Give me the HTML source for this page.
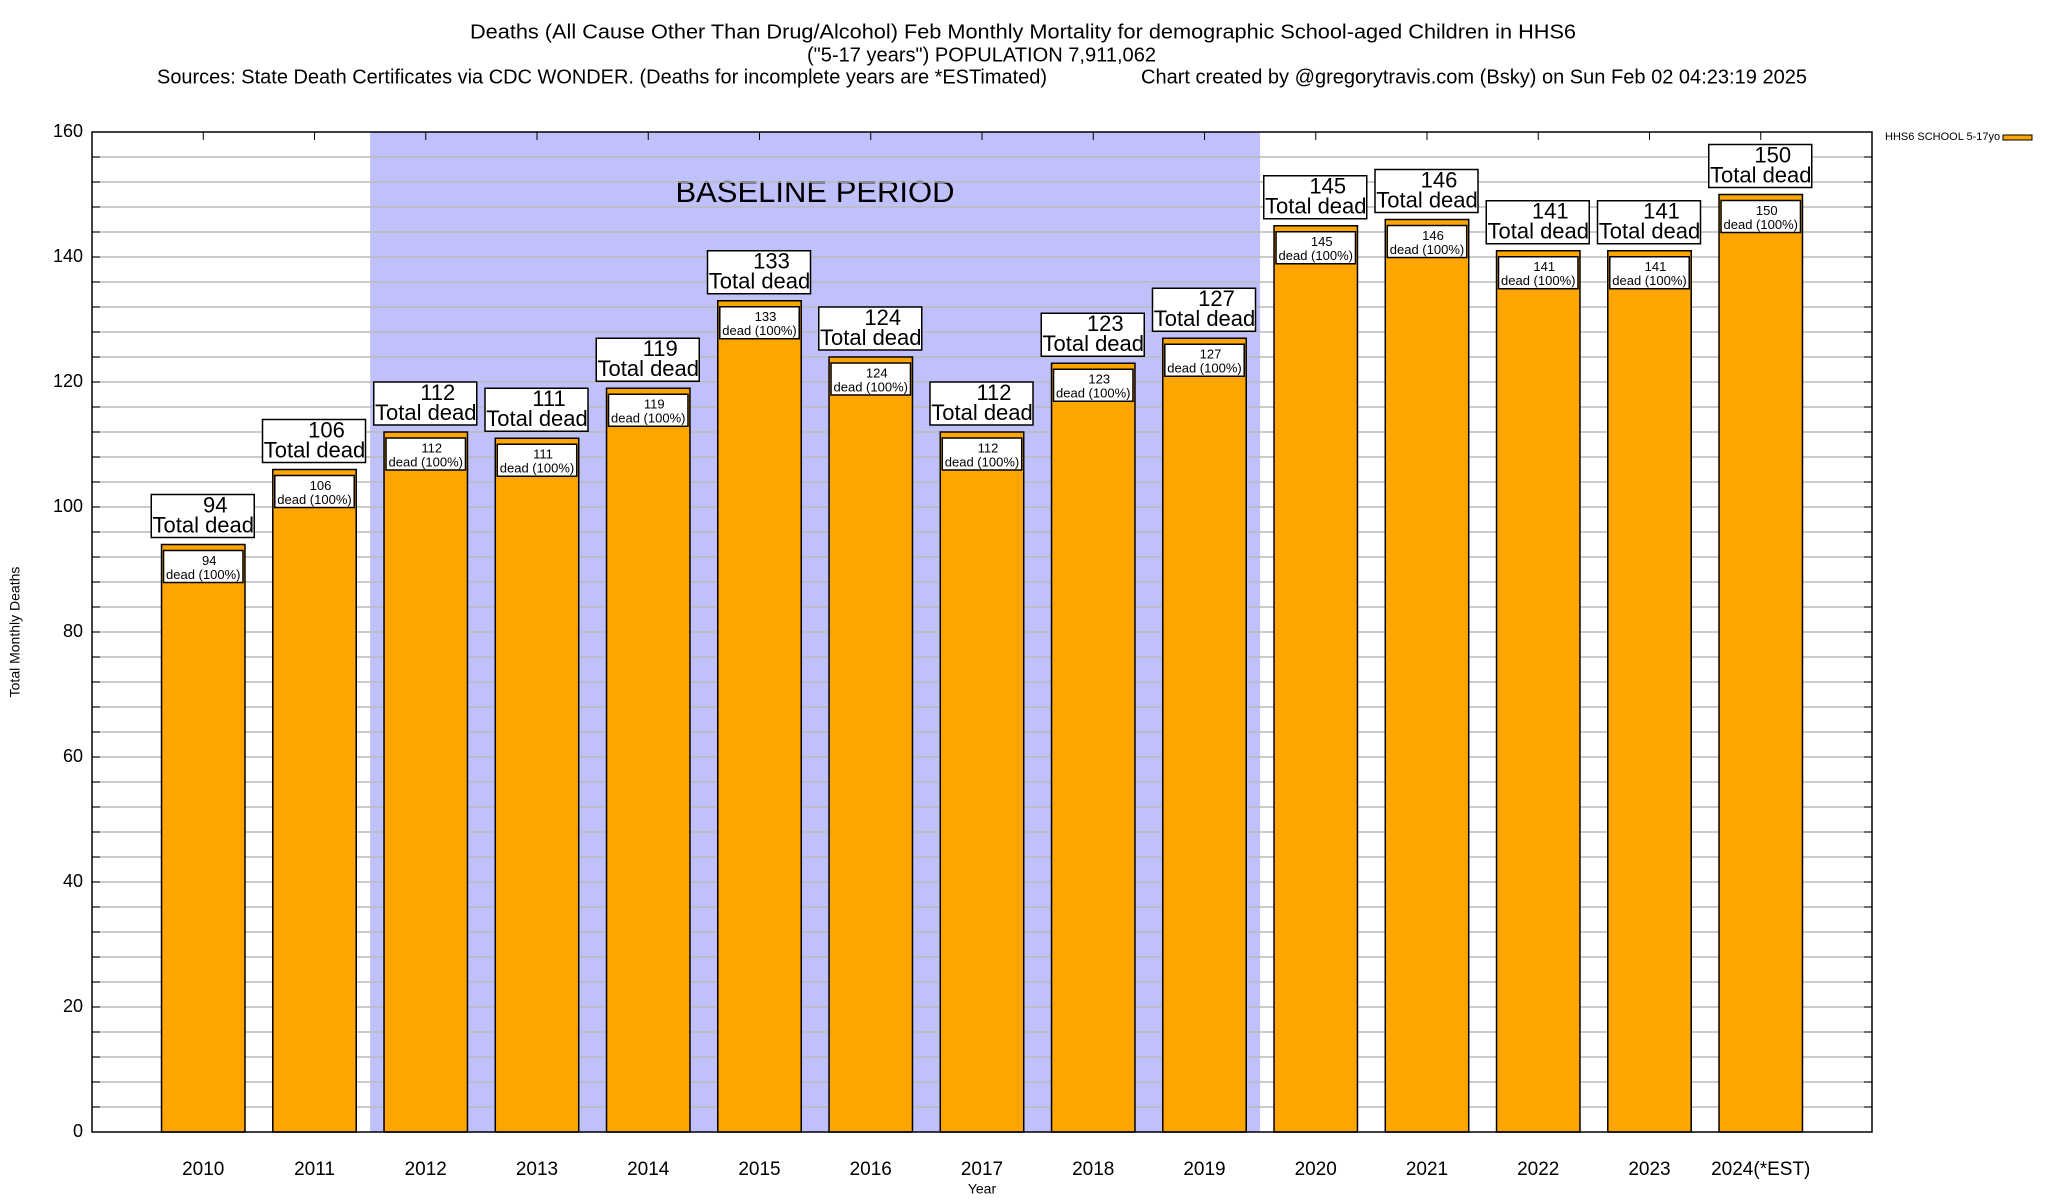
<!DOCTYPE html>
<html><head><meta charset="utf-8"><style>
html,body{margin:0;padding:0;background:#fff;}
svg{display:block;font-family:"Liberation Sans",sans-serif;}
</style></head><body>
<svg id="chart" width="2048" height="1200" viewBox="0 0 2048 1200">
<g>
<text x="470" y="33" font-size="20" textLength="1106" lengthAdjust="spacingAndGlyphs" dominant-baseline="middle">Deaths (All Cause Other Than Drug/Alcohol) Feb Monthly Mortality for demographic School-aged Children in HHS6</text>
<text x="807" y="56" font-size="20" textLength="349" lengthAdjust="spacingAndGlyphs" dominant-baseline="middle">("5-17 years") POPULATION 7,911,062</text>
<text x="157" y="78" font-size="20" textLength="890" lengthAdjust="spacingAndGlyphs" dominant-baseline="middle">Sources: State Death Certificates via CDC WONDER. (Deaths for incomplete years are *ESTimated)</text>
<text x="1141" y="78" font-size="20" textLength="666" lengthAdjust="spacingAndGlyphs" dominant-baseline="middle">Chart created by @gregorytravis.com (Bsky) on Sun Feb 02 04:23:19 2025</text>
</g>
<g id="plot"></g>
<text x="16" y="632" font-size="14" text-anchor="middle" transform="rotate(-90 16 632)" dominant-baseline="middle">Total Monthly Deaths</text>
<text x="982" y="1190" font-size="14" text-anchor="middle" dominant-baseline="middle">Year</text>
<g>
<text x="1885" y="137" font-size="11" dominant-baseline="middle">HHS6 SCHOOL 5-17yo</text>
<rect x="2003" y="135" width="29" height="5" fill="#ffa500" stroke="#000" stroke-width="1"/>
</g>
</svg>
<script>
const categories=["2010","2011","2012","2013","2014","2015","2016","2017","2018","2019","2020","2021","2022","2023","2024(*EST)"];
const deaths=[94,106,112,111,119,133,124,112,123,127,145,146,141,141,150];
const yTicks=[0,20,40,60,80,100,120,140,160];
const baselineStart="2012";
const baselineEnd="2019";

const NS="http://www.w3.org/2000/svg";
const L=92,R=1872,T=132,B=1132,YMAX=160;
const slot=(R-L)/(categories.length+1);
function xc(i){return L+(i+1)*slot;}
function y(v){return B-(v/YMAX)*(B-T);}
const g=document.getElementById('plot');
function el(tag,attrs,parent){const e=document.createElementNS(NS,tag);for(const k in attrs)e.setAttribute(k,attrs[k]);(parent||g).appendChild(e);return e;}

// baseline shading
const bi=categories.indexOf(baselineStart),be=categories.indexOf(baselineEnd);
const sh=el('rect',{x:xc(bi)-slot/2,y:T,width:(be-bi+1)*slot,height:B-T,fill:'#c0c0fa'});


const bt=el('text',{x:815,y:194,'font-size':31,'text-anchor':'middle','dominant-baseline':'middle'});
bt.textContent='BASELINE PERIOD';



// gridlines every 4
for(let v=4;v<YMAX;v+=4){
  const ln=el('line',{x1:L,x2:R,y1:y(v),y2:y(v),stroke:'#bbbbbb','stroke-width':1.5});
  
  
  el('line',{x1:L,x2:L+8,y1:y(v),y2:y(v),stroke:'#000','stroke-width':1});
  el('line',{x1:R-8,x2:R,y1:y(v),y2:y(v),stroke:'#000','stroke-width':1});
}
yTicks.forEach(v=>{
  const t=el('text',{x:83,y:y(v),'font-size':18,'text-anchor':'end','dominant-baseline':'middle'});
  t.textContent=v;
  
  
});

const bw=slot*0.75;
categories.forEach((c,i)=>{
  const cx=xc(i),v=deaths[i],top=y(v);
  el('line',{x1:cx,x2:cx,y1:T,y2:T+8,stroke:'#000','stroke-width':1});
  const b=el('rect',{x:cx-bw/2,y:top,width:bw,height:B-top,fill:'#ffa500',stroke:'#000','stroke-width':1.5});
  
  
  // inner label
  const ib=el('rect',{x:cx-bw/2+2,y:top+6,width:bw-4,height:32,fill:'#fff',stroke:'#000','stroke-width':1.5});
  
  
  const t1=el('text',{x:cx+6,y:top+17,'font-size':13,'text-anchor':'middle','dominant-baseline':'middle'});
  t1.textContent=v;
  
  
  const t2=el('text',{x:cx,y:top+31,'font-size':13,'text-anchor':'middle','dominant-baseline':'middle'});
  t2.textContent='dead (100%)';
  
  
  // outer label
  const ob=el('rect',{x:cx-52,y:top-50,width:103,height:43,fill:'#fff',stroke:'#000','stroke-width':1.5});
  
  
  const o1=el('text',{x:cx+12,y:top-38,'font-size':22,'text-anchor':'middle','dominant-baseline':'middle'});
  o1.textContent=v;
  
  
  const o2=el('text',{x:cx,y:top-18,'font-size':22,'text-anchor':'middle','dominant-baseline':'middle'});
  o2.textContent='Total dead';
  
  
  const xl=el('text',{x:cx,y:1170,'font-size':19,'text-anchor':'middle','dominant-baseline':'middle'});
  xl.textContent=c;
  
  
});
const fr=el('rect',{x:L,y:T,width:R-L,height:B-T,fill:'none',stroke:'#000','stroke-width':1.5});


</script>
</body></html>
